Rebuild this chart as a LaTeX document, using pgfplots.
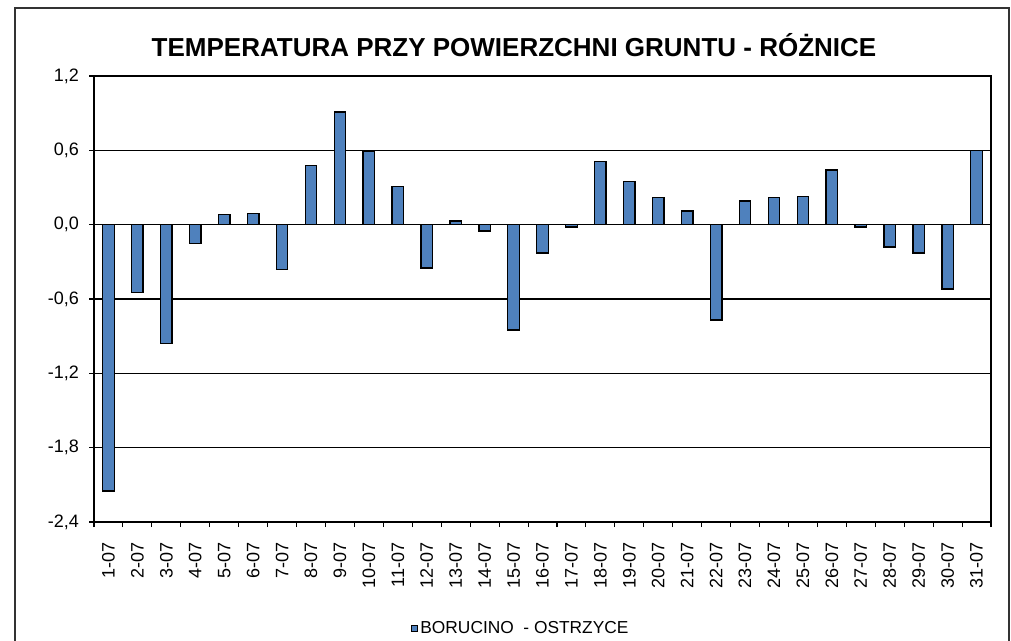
\documentclass[border=0pt]{standalone}
\usepackage{fontspec}
\setmainfont{Liberation Sans}
\usepackage{pgfplots}
\pgfplotsset{compat=1.18}
\definecolor{barblue}{HTML}{4F81BD}
\begin{document}
\begin{tikzpicture}
\path[use as bounding box] (0pt,0pt) rectangle (758.25pt,480pt);
\draw[line width=0.9pt, black!80] (11.25pt,-7pt) -- (11.25pt,474pt) -- (756.75pt,474pt) -- (756.75pt,-7pt);
\node[font=\fontsize{19.5pt}{22pt}\selectfont\bfseries, anchor=base] at (385.5pt,437.25pt) {TEMPERATURA PRZY POWIERZCHNI GRUNTU - RÓŻNICE};
\begin{axis}[
  at={(70.5pt,88.5pt)}, anchor=south west,
  scale only axis, width=672.75pt, height=334.5pt,
  xmin=0.5, xmax=31.5, ymin=-2.4, ymax=1.2,
  ybar, bar width=8.6pt,
  axis line style={black, line width=0.8pt},
  ytick={-2.4,-1.8,-1.2,-0.6,0,0.6,1.2},
  ymajorgrids, grid style={black, line width=0.8pt},
  yticklabel style={/pgf/number format/.cd, fixed, fixed zerofill, precision=1, use comma},
  /pgf/number format/assume math mode=true,
  tick align=outside,
  major tick length=3.75pt, minor tick length=3.75pt,
  xtick={1,...,31},
  xticklabels={1-07,2-07,3-07,4-07,5-07,6-07,7-07,8-07,9-07,10-07,11-07,12-07,13-07,14-07,15-07,16-07,17-07,18-07,19-07,20-07,21-07,22-07,23-07,24-07,25-07,26-07,27-07,28-07,29-07,30-07,31-07},
  minor xtick={0.5,1.5,...,31.5},
  major x tick style={draw=none},
  minor x tick style={black, line width=0.8pt},
  major y tick style={black, line width=0.8pt},
  xtick pos=bottom, ytick pos=left,
  tick label style={font=\fontsize{13.5pt}{15pt}\selectfont},
  xticklabel style={rotate=90, anchor=east},
  xticklabel shift=8pt,
  yticklabel shift=4pt,
  legend style={at={(0.476,-0.238)}, anchor=center, draw=none, font=\fontsize{13pt}{15pt}\selectfont, inner sep=1pt},
  legend image code/.code={\draw[#1, line width=0.6pt] (0pt,-2.3pt) rectangle (4.6pt,2.3pt);},
]
\addplot[fill=barblue, draw=black, line width=1pt] coordinates {
(1,-2.15) (2,-0.55) (3,-0.96) (4,-0.15) (5,0.08) (6,0.09) (7,-0.36) (8,0.48)
(9,0.91) (10,0.59) (11,0.31) (12,-0.35) (13,0.03) (14,-0.05) (15,-0.85) (16,-0.23)
(17,-0.02) (18,0.51) (19,0.35) (20,0.22) (21,0.11) (22,-0.77) (23,0.19) (24,0.22)
(25,0.23) (26,0.44) (27,-0.02) (28,-0.18) (29,-0.23) (30,-0.52) (31,0.60)
};
\addlegendentry{BORUCINO\ \ - OSTRZYCE}
\end{axis}
\end{tikzpicture}
\end{document}
